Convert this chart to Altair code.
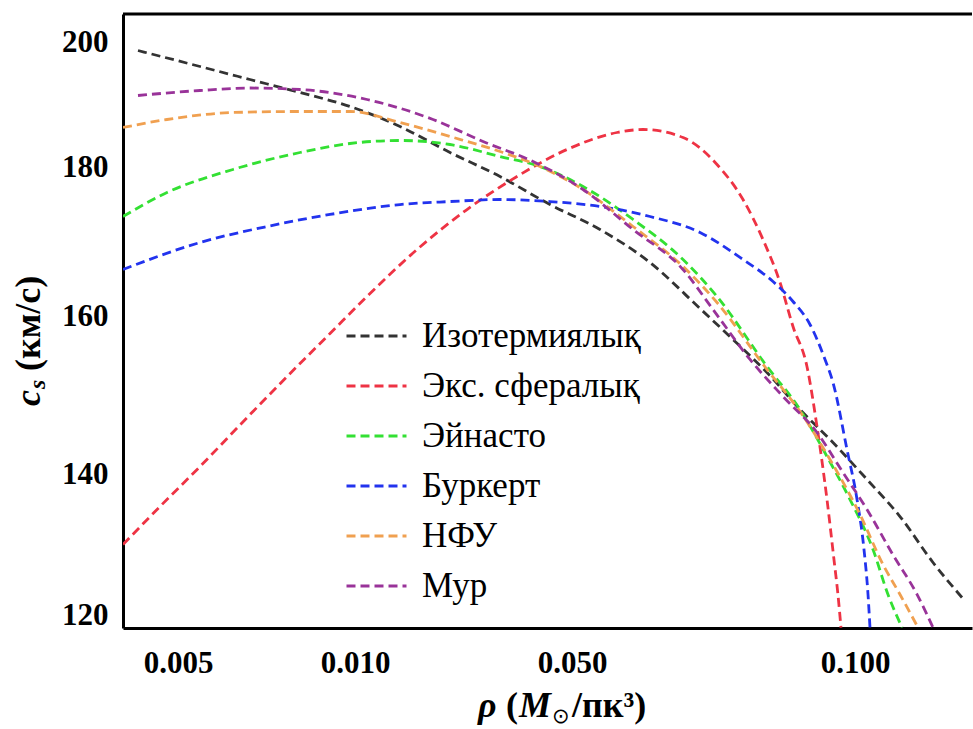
import altair as alt
import pandas as pd

# Sound speed c_s (km/s) against dark-matter density rho (M_sun / pc^3)
SERIES = ["Изотермиялық", "Экс. сфералық", "Эйнасто", "Буркерт", "НФУ", "Мур"]
COLORS = ["#333333", "#ee3344", "#33e033", "#2233ee", "#f0a050", "#993399"]

RHO_ISO = [0.004274, 0.00545, 0.006629, 0.008062, 0.009806, 0.013962, 0.02023, 0.02931,
           0.04247, 0.05355, 0.06053, 0.06841, 0.07417, 0.08061, 0.0874, 0.09475,
           0.10298, 0.11166, 0.12106, 0.12998]
CS_ISO = [198.64, 196.08, 194.0, 191.92, 189.68, 186.48, 182.32, 178.73,
          174.98, 171.64, 167.22, 161.07, 157.09, 152.91, 148.23, 144.05,
          139.29, 134.04, 127.52, 122.55]

RHO_EXP = [0.00403, 0.004659, 0.00545, 0.006629, 0.008062, 0.009068, 0.010931, 0.015838,
           0.022949, 0.033251, 0.048183, 0.05583, 0.0595, 0.06562, 0.07132, 0.07601,
           0.07982, 0.08322, 0.08591, 0.0889, 0.09111, 0.09337, 0.09498, 0.09591, 0.09662]
CS_EXP = [130.07, 135.46, 141.01, 147.59, 154.05, 157.85, 162.68, 168.96,
          174.31, 178.73, 182.8, 185.52, 186.0, 184.72, 180.4, 175.65,
          170.3, 164.55, 158.73, 153.67, 146.08, 136.45, 127.94, 122.98, 118.3]

RHO_EIN = [0.00403, 0.004789, 0.006201, 0.008062, 0.009806, 0.013962, 0.02023, 0.02931,
           0.03943, 0.05137, 0.05806, 0.06562, 0.07132, 0.08061, 0.0874, 0.09337,
           0.09879, 0.10451, 0.10842, 0.11221]
CS_EIN = [173.38, 176.59, 179.67, 182.32, 183.76, 184.24, 183.6, 181.68,
          180.08, 177.39, 172.98, 167.63, 162.68, 153.67, 148.23, 142.28,
          136.45, 129.36, 122.98, 118.3]

RHO_BUR = [0.00403, 0.00545, 0.007085, 0.009068, 0.013962, 0.02023, 0.02931, 0.04247,
           0.05355, 0.06053, 0.06841, 0.07601, 0.0818, 0.08591, 0.08956, 0.09292,
           0.09475, 0.09806, 0.1005, 0.10223, 0.10324, 0.10374]
CS_BUR = [166.29, 169.9, 172.04, 173.65, 174.98, 175.38, 175.65, 175.38,
          174.72, 173.38, 171.24, 167.63, 164.68, 162.01, 158.99, 154.56,
          151.65, 143.16, 136.45, 129.36, 122.98, 118.3]

RHO_NFW = [0.00403, 0.004789, 0.006201, 0.008062, 0.009806, 0.013962, 0.02023, 0.02931,
           0.03943, 0.05137, 0.05806, 0.06562, 0.07132, 0.08061, 0.0874, 0.09406,
           0.10123, 0.1071, 0.11166, 0.11669]
CS_NFW = [186.32, 187.6, 188.72, 188.88, 188.88, 187.12, 184.88, 182.48,
          180.08, 176.99, 172.04, 166.69, 161.87, 153.29, 147.97, 141.9,
          134.33, 127.23, 122.98, 118.3]

RHO_MOO = [0.004274, 0.00545, 0.006629, 0.008062, 0.010931, 0.017834, 0.025841, 0.03744,
           0.05137, 0.05806, 0.06562, 0.07062, 0.07733, 0.08384, 0.09111, 0.0971,
           0.10298, 0.10976, 0.11641, 0.12106]
CS_MOO = [191.44, 192.24, 192.64, 192.4, 190.8, 187.6, 184.08, 180.88,
          176.99, 171.64, 166.29, 160.94, 154.56, 149.87, 145.32, 140.25,
          135.04, 128.6, 123.0, 118.3]

X_TICKS = [0.005, 0.01, 0.05, 0.1]
Y_TICKS = [120, 140, 160, 180, 200]

# Piecewise scales follow the spacing of the printed axis labels
X_DOMAIN = [0.00403, 0.005, 0.01, 0.05, 0.1, 0.1332]
X_RANGE = [0, 55, 232, 449, 732, 849]
Y_DOMAIN = [118.23, 120, 140, 160, 180, 200, 204.48]
Y_RANGE = [614, 601.5, 460.5, 302.5, 153, 28, 0]

W, H = 849, 614
SERIF = "Liberation Serif, Times New Roman, DejaVu Serif, serif"

rows = []
for name, xs, ys in zip(
    SERIES,
    [RHO_ISO, RHO_EXP, RHO_EIN, RHO_BUR, RHO_NFW, RHO_MOO],
    [CS_ISO, CS_EXP, CS_EIN, CS_BUR, CS_NFW, CS_MOO],
):
    for xv, yv in zip(xs, ys):
        rows.append({"model": name, "rho": xv, "cs": yv})
df = pd.DataFrame(rows)

x_scale = alt.Scale(type="log", domain=X_DOMAIN, range=X_RANGE, nice=False)
y_scale = alt.Scale(type="linear", domain=Y_DOMAIN, range=Y_RANGE, nice=False, zero=False)

lines = alt.Chart(df).mark_line(
    strokeDash=[9, 5], strokeWidth=2.8, interpolate="monotone", clip=True
).encode(
    x=alt.X("rho:Q", scale=x_scale,
            axis=alt.Axis(values=X_TICKS, format=".3f", title=None, grid=False,
                          ticks=False, domain=True, domainColor="black", domainWidth=3,
                          labelFont=SERIF, labelFontSize=31, labelFontWeight="bold",
                          labelColor="black", labelPadding=20, labelFlush=False)),
    y=alt.Y("cs:Q", scale=y_scale,
            axis=alt.Axis(values=Y_TICKS, format="d", title=None, grid=False,
                          ticks=False, domain=True, domainColor="black", domainWidth=3,
                          labelFont=SERIF, labelFontSize=31, labelFontWeight="bold",
                          labelColor="black", labelPadding=15)),
    color=alt.Color("model:N", sort=SERIES,
                    scale=alt.Scale(domain=SERIES, range=COLORS),
                    legend=alt.Legend(orient="none", legendX=222, legendY=297, title=None,
                                      symbolType="stroke", symbolSize=3600,
                                      symbolStrokeWidth=2.8, symbolDash=[9, 5],
                                      labelFont=SERIF, labelFontSize=35, labelColor="black",
                                      labelLimit=400, clipHeight=50, rowPadding=0,
                                      labelOffset=14)),
    order=alt.Order("rho:Q"),
)

# top edge of the frame
top_edge = alt.Chart().mark_rule(color="black", strokeWidth=3).encode(
    x=alt.value(0), x2=alt.value(W), y=alt.value(0)
)

# y-axis title: c_s (км/с)
y_c = alt.Chart().mark_text(text="c", font=SERIF, fontSize=36, fontStyle="italic",
                            fontWeight="bold", angle=270, align="left", baseline="middle",
                            color="black").encode(x=alt.value(-94), y=alt.value(392))
y_s = alt.Chart().mark_text(text="s", font=SERIF, fontSize=24, fontStyle="italic",
                            fontWeight="bold", angle=270, align="left", baseline="middle",
                            color="black").encode(x=alt.value(-85), y=alt.value(375))
y_unit = alt.Chart().mark_text(text="(км/с)", font=SERIF, fontSize=36, fontWeight="bold",
                               angle=270, align="left", baseline="middle",
                               color="black").encode(x=alt.value(-94), y=alt.value(357))

# x-axis title: rho (M_sun / пк^3)
TY = 703
x_rho = alt.Chart().mark_text(text="ρ", font=SERIF, fontSize=36, fontStyle="italic",
                              fontWeight="bold", align="left", baseline="alphabetic",
                              color="black").encode(x=alt.value(355), y=alt.value(TY))
x_open = alt.Chart().mark_text(text="(", font=SERIF, fontSize=36, fontWeight="bold",
                               align="left", baseline="alphabetic",
                               color="black").encode(x=alt.value(383), y=alt.value(TY))
x_m = alt.Chart().mark_text(text="M", font=SERIF, fontSize=36, fontStyle="italic",
                            fontWeight="bold", align="left", baseline="alphabetic",
                            color="black").encode(x=alt.value(396), y=alt.value(TY))
x_sun = alt.Chart().mark_text(text="⊙", font="DejaVu Sans", fontSize=21,
                              align="left", baseline="alphabetic",
                              color="black").encode(x=alt.value(429), y=alt.value(TY + 6))
x_unit = alt.Chart().mark_text(text="/пк³)", font=SERIF, fontSize=36, fontWeight="bold",
                               align="left", baseline="alphabetic",
                               color="black").encode(x=alt.value(449), y=alt.value(TY))

chart = alt.layer(
    lines, top_edge, y_c, y_s, y_unit, x_rho, x_open, x_m, x_sun, x_unit
).properties(
    width=W, height=H, autosize="none",
    padding={"left": 123, "top": 14, "right": 1, "bottom": 100},
    background="white",
).configure_view(stroke=None)

chart.save("out.html", embed_options={"renderer": "svg", "actions": False})
